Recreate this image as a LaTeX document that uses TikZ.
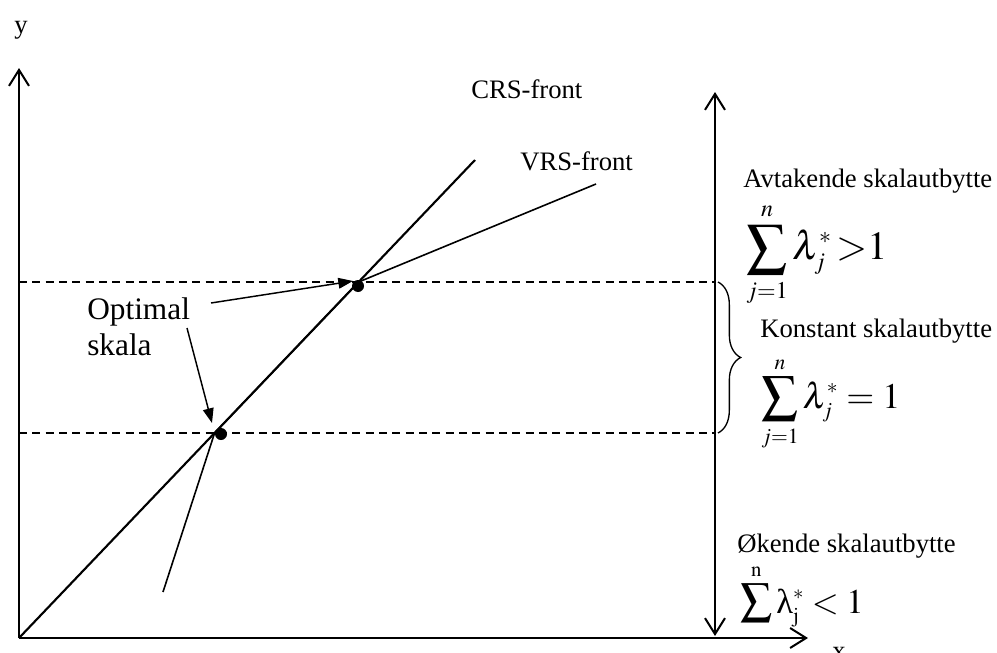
\documentclass[tikz,border=0pt]{standalone}
\usepackage{mathptmx}
\usepackage{graphicx}
\usepackage{fontspec}
\setmainfont{Liberation Serif}
\usetikzlibrary{arrows.meta,decorations.pathreplacing}

\begin{document}
\begin{tikzpicture}[x=0.75pt,y=-0.75pt,font=\fontsize{20}{24}\selectfont,
    >={Straight Barb[length=12pt,width=15pt]},
    axis/.style={line width=1.5pt},
    front/.style={line width=1.6pt},
    level/.style={line width=0.8pt,dash pattern=on 6pt off 4pt},
    pointer/.style={line width=1.1pt,-{Triangle[length=11pt,width=8pt]}},
    dot/.style={circle,fill,inner sep=0pt,minimum size=9pt},
    lbl/.style={anchor=base west,inner sep=0pt},
    sumlbl/.style={anchor=west,inner sep=0pt}]
  \useasboundingbox (0,0) rectangle (997,653);
  % axes and the scale arrow
  \coordinate (O) at (19,638);
  \coordinate (ytop) at (19,68);
  \coordinate (xend) at (808,638);
  \coordinate (rtop) at (715,92);
  \coordinate (rbot) at (715,636);
  \draw[axis,->] (O) -- (ytop);
  \draw[axis,->] (O) -- (xend);
  \draw[axis,<->] (rbot) -- (rtop);
  \node[lbl] (ylab) at (14,33) {y};
  \node[lbl] (xlab) at (832,659) {x};
  % fronts
  \coordinate (crsEnd) at (475,160);
  \coordinate (vrsLow) at (163,592);
  \coordinate (kinkA) at (214.6,433);
  \coordinate (kinkB) at (358.6,282);
  \coordinate (vrsEnd) at (596,184);
  \draw[front] (O) -- (crsEnd);
  \draw[line width=1.2pt] (vrsLow) -- (kinkA) -- (kinkB) -- (vrsEnd);
  \node[lbl] (crs) at (471,98) {CRS-front};
  \node[lbl] (vrs) at (520,170) {VRS-front};
  % optimal scale levels
  \draw[level] (O |- kinkB) -- (rtop |- kinkB);
  \draw[level] (O |- kinkA) -- (rtop |- kinkA);
  \draw[decorate,decoration={brace,amplitude=17pt},line width=1pt] (718,282) -- (718,433);
  \node[dot] (dotA) at (221,434) {};
  \node[dot] (dotB) at (358,286) {};
  \node[anchor=north west,inner sep=0pt,align=left,font=\fontsize{23.5}{27}\selectfont] (opt) at (87,297) {Optimal\\skala};
  \coordinate (optA) at (211,303);
  \coordinate (optB) at (187,328);
  \coordinate (tipB) at (353,281);
  \coordinate (tipA) at (212,423);
  \draw[pointer] (optA) -- (tipB);
  \draw[pointer] (optB) -- (tipA);
  % returns to scale
  \node[lbl] (avt) at (743,187) {Avtakende skalautbytte};
  \node[sumlbl,font=\fontsize{30}{34}\selectfont] (sumGt) at (746,255)
    {$\displaystyle\sum_{\scriptscriptstyle j=1}^{\scriptscriptstyle n}\lambda_{\scriptscriptstyle j}^{\scriptscriptstyle *}\,{>}1$};
  \node[lbl] (kon) at (760,337) {Konstant skalautbytte};
  \node[sumlbl,font=\fontsize{27}{31}\selectfont] (sumEq) at (761,404)
    {$\displaystyle\sum_{\scriptscriptstyle j=1}^{\scriptscriptstyle n}\lambda_{\scriptscriptstyle j}^{\scriptscriptstyle *}=1$};
  \node[lbl] (oke) at (737,552) {Økende skalautbytte};
  \node[sumlbl,font=\fontsize{26}{30}\selectfont] (sumLt) at (740,595)
    {$\mathop{\scalebox{1.3}{$\sum$}}\limits^{\scriptscriptstyle\mathrm{n}}\mbox{λ}^{\scriptscriptstyle *}_{\scriptscriptstyle\mathrm{j}}<1$};
\end{tikzpicture}
\end{document}
